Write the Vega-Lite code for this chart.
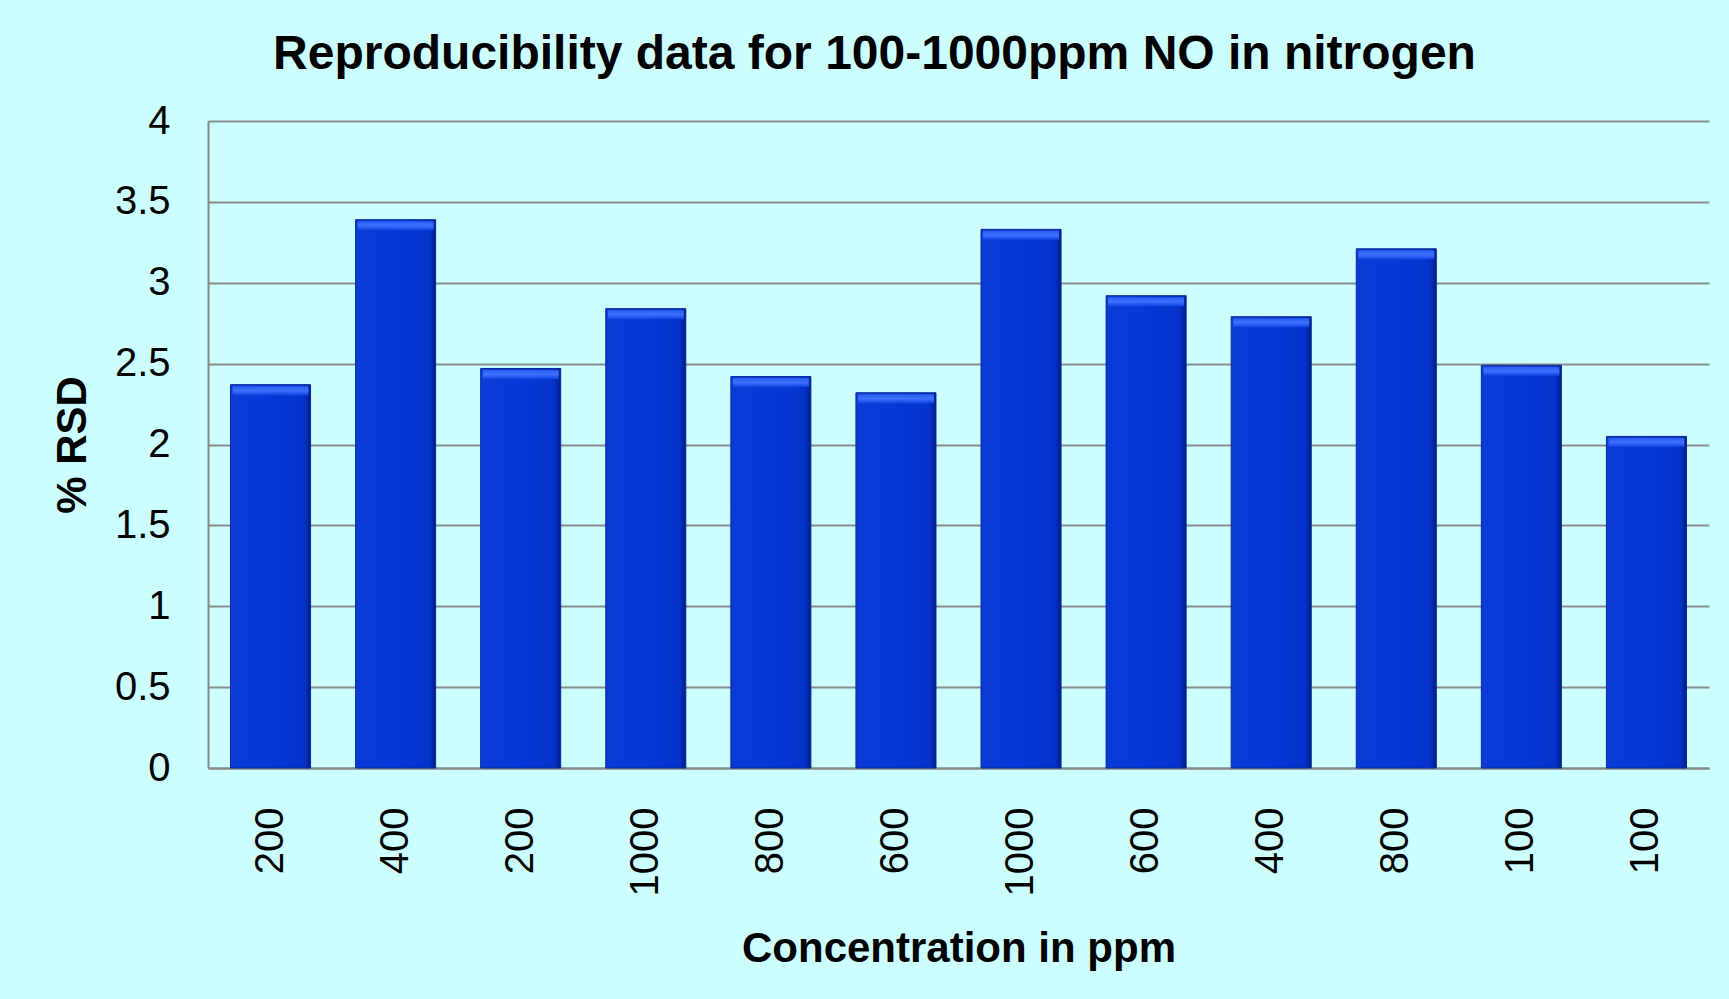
{
  "$schema": "https://vega.github.io/schema/vega-lite/v6.json",
  "width": 1501,
  "height": 647,
  "autosize": {"type": "none"},
  "padding": {"left": 208, "top": 121, "right": 20, "bottom": 231},
  "background": "#CCFFFF",
  "config": {
    "font": "Liberation Sans",
    "view": {"stroke": null},
    "axis": {"labelColor": "#000000", "titleColor": "#000000", "labelFont": "Liberation Sans", "titleFont": "Liberation Sans"}
  },
  "title": {
    "text": "Reproducibility data for 100-1000ppm NO in nitrogen",
    "fontSize": 48,
    "fontWeight": "bold",
    "color": "#000000",
    "anchor": "middle",
    "frame": "group",
    "dx": -84,
    "baseline": "alphabetic",
    "offset": -16
  },
  "data": {
    "values": [
      {"sample": "200#1", "rsd": 2.37},
      {"sample": "400#2", "rsd": 3.39},
      {"sample": "200#3", "rsd": 2.47},
      {"sample": "1000#4", "rsd": 2.84},
      {"sample": "800#5", "rsd": 2.42},
      {"sample": "600#6", "rsd": 2.32},
      {"sample": "1000#7", "rsd": 3.33},
      {"sample": "600#8", "rsd": 2.92},
      {"sample": "400#9", "rsd": 2.79},
      {"sample": "800#10", "rsd": 3.21},
      {"sample": "100#11", "rsd": 2.49},
      {"sample": "100#12", "rsd": 2.05}
    ]
  },
  "encoding": {
    "x": {
      "field": "sample",
      "type": "nominal",
      "sort": null,
      "scale": {"paddingInner": 0.36, "paddingOuter": 0.18},
      "axis": {
        "title": "Concentration in ppm",
        "titleFontSize": 42,
        "titleFontWeight": "bold",
        "titlePadding": 33,
        "labelExpr": "split(datum.value, '#')[0]",
        "labelAngle": -90,
        "labelFontSize": 40,
        "labelPadding": 39,
        "ticks": false,
        "tickSize": 0,
        "domainColor": "#888888",
        "domainWidth": 2,
        "grid": false
      }
    },
    "y": {
      "field": "rsd",
      "type": "quantitative",
      "scale": {"domain": [0, 4], "nice": false},
      "axis": {
        "title": "% RSD",
        "titleFontSize": 42,
        "titleFontWeight": "bold",
        "titlePadding": 20,
        "values": [0, 0.5, 1, 1.5, 2, 2.5, 3, 3.5, 4],
        "labelExpr": "'' + datum.value",
        "labelFontSize": 40,
        "labelPadding": 38,
        "ticks": false,
        "tickSize": 0,
        "domainColor": "#888888",
        "domainWidth": 2,
        "gridColor": "#8c8c8c",
        "gridWidth": 2
      }
    }
  },
  "layer": [
    {
      "mark": {
        "type": "bar",
        "fill": {
          "gradient": "linear",
          "x1": 0, "y1": 0, "x2": 1, "y2": 0,
          "stops": [
            {"offset": 0, "color": "#0a3bd6"},
            {"offset": 0.5, "color": "#0638d8"},
            {"offset": 0.92, "color": "#0533cc"},
            {"offset": 1, "color": "#001d85"}
          ]
        },
        "stroke": "#0a2a9a",
        "strokeWidth": 1
      }
    },
    {
      "mark": {
        "type": "tick",
        "orient": "horizontal",
        "size": 76,
        "thickness": 9,
        "yOffset": 6,
        "fill": {
          "gradient": "linear",
          "x1": 0, "y1": 0, "x2": 0, "y2": 1,
          "stops": [
            {"offset": 0, "color": "#2a5cf0"},
            {"offset": 0.5, "color": "#3d70ff"},
            {"offset": 1, "color": "#1244e0"}
          ]
        },
        "opacity": 1
      }
    }
  ]
}
